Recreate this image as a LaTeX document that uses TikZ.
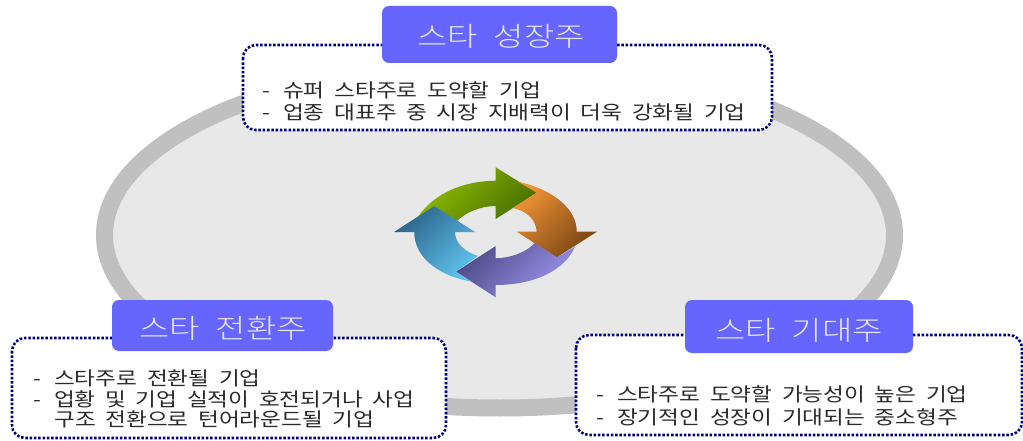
\documentclass[tikz,border=0pt]{standalone}
\usepackage{fontspec}
\newfontfamily\krbody[FakeStretch=1.19,WordSpace=1.9]{Noto Sans CJK KR}
\newfontfamily\krtitle[FakeStretch=1.22,WordSpace=2.2]{Noto Sans CJK KR Light}
\definecolor{ringgray}{HTML}{C0C0C0}
\definecolor{discgray}{HTML}{E8E8E8}
\definecolor{titleblue}{HTML}{6666FF}
\definecolor{titletext}{HTML}{E6E6F4}
\definecolor{dotnavy}{HTML}{000080}
\definecolor{bodytext}{HTML}{2A2A2A}
\tikzset{
  infobox/.style={draw=dotnavy,fill=white,line width=2.6pt,line cap=butt,dash pattern=on 2.5pt off 1.8pt,rounded corners=13pt},
  titlebox/.style={fill=titleblue,rounded corners=7pt,draw=none},
  titlelabel/.style={text=titletext,font=\krtitle\fontsize{27}{27}\selectfont,inner sep=0pt},
  bodyline/.style={anchor=west,text=bodytext,font=\krbody\fontsize{19}{20}\selectfont,inner sep=0pt},
}
\newcommand{\dashitem}[1]{\makebox[21pt][l]{-}#1}
\begin{document}
\begin{tikzpicture}[x=1pt,y=-1pt]
\useasboundingbox (0,0) rectangle (1023,441);
\fill[white] (0,0) rectangle (1023,441);
% disc
\draw[draw=ringgray,fill=discgray,line width=17pt] (499.5,235) ellipse [x radius=395,y radius=173];
% cycle arrows
\shade[top color={rgb,255:red,146;green,190;blue,0},bottom color={rgb,255:red,74;green,112;blue,0},shading angle=45]
  (418,216.7) .. controls (435,192) and (465,181) .. (495.7,180.7) -- (495.7,167.3) -- (536.7,192.7) -- (495.7,219) -- (495.7,206)
  .. controls (480,206) and (465,213) .. (457,221) -- (434.3,206) -- cycle;
\shade[top color={rgb,255:red,240;green,146;blue,54},bottom color={rgb,255:red,122;green,70;blue,20},shading angle=45]
  (518,181.7) .. controls (555,190) and (577,210) .. (576.7,231.7) -- (597,231.7) -- (556.7,257.3) -- (516.7,231.7) -- (536.7,231.7)
  .. controls (536,220) and (527,211) .. (513,208) -- (536.7,192.7) -- cycle;
\shade[top color={rgb,255:red,80;green,76;blue,136},bottom color={rgb,255:red,156;green,148;blue,240},shading angle=45]
  (575,246.7) .. controls (565,270) and (535,285) .. (495.7,285) -- (495.7,297.3) -- (456,271.7) -- (495.7,246) -- (495.7,258.3)
  .. controls (510,258) and (525,253) .. (535,243) -- (556.7,257.3) -- cycle;
\shade[top color={rgb,255:red,44;green,100;blue,136},bottom color={rgb,255:red,94;green,194;blue,238},shading angle=45]
  (471.7,281.7) .. controls (435,275) and (414,255) .. (414.3,232) -- (394,232) -- (434.3,206) -- (475,232) -- (455,232)
  .. controls (455,243) and (465,252) .. (478,256) -- (456,271.7) -- cycle;
% top group
\draw[infobox] (243,45) rectangle (772,130);
\fill[titlebox] (382,6) rectangle (617,63);
\node[titlelabel] (titleA) at (501,36) {스타 성장주};
\node[bodyline] (a1) at (262,90) {\dashitem{슈퍼 스타주로 도약할 기업}};
\node[bodyline] (a2) at (262,112) {\dashitem{업종 대표주 중 시장 지배력이 더욱 강화될 기업}};
% left group
\draw[infobox] (12,338) rectangle (446,438);
\fill[titlebox] (112,300) rectangle (333,351);
\node[titlelabel] (titleB) at (223,328) {스타 전환주};
\node[bodyline] (b1) at (33,378) {\dashitem{스타주로 전환될 기업}};
\node[bodyline] (b2) at (33,399) {\dashitem{업황 및 기업 실적이 호전되거나 사업}};
\node[bodyline] (b3) at (54,419) {구조 전환으로 턴어라운드될 기업};
% right group
\draw[infobox] (576,335) rectangle (1022,435);
\fill[titlebox] (685,300) rectangle (913,353);
\node[titlelabel] (titleC) at (799,330) {스타 기대주};
\node[bodyline] (c1) at (596,394) {\dashitem{스타주로 도약할 가능성이 높은 기업}};
\node[bodyline] (c2) at (596,417) {\dashitem{장기적인 성장이 기대되는 중소형주}};
\end{tikzpicture}
\end{document}
